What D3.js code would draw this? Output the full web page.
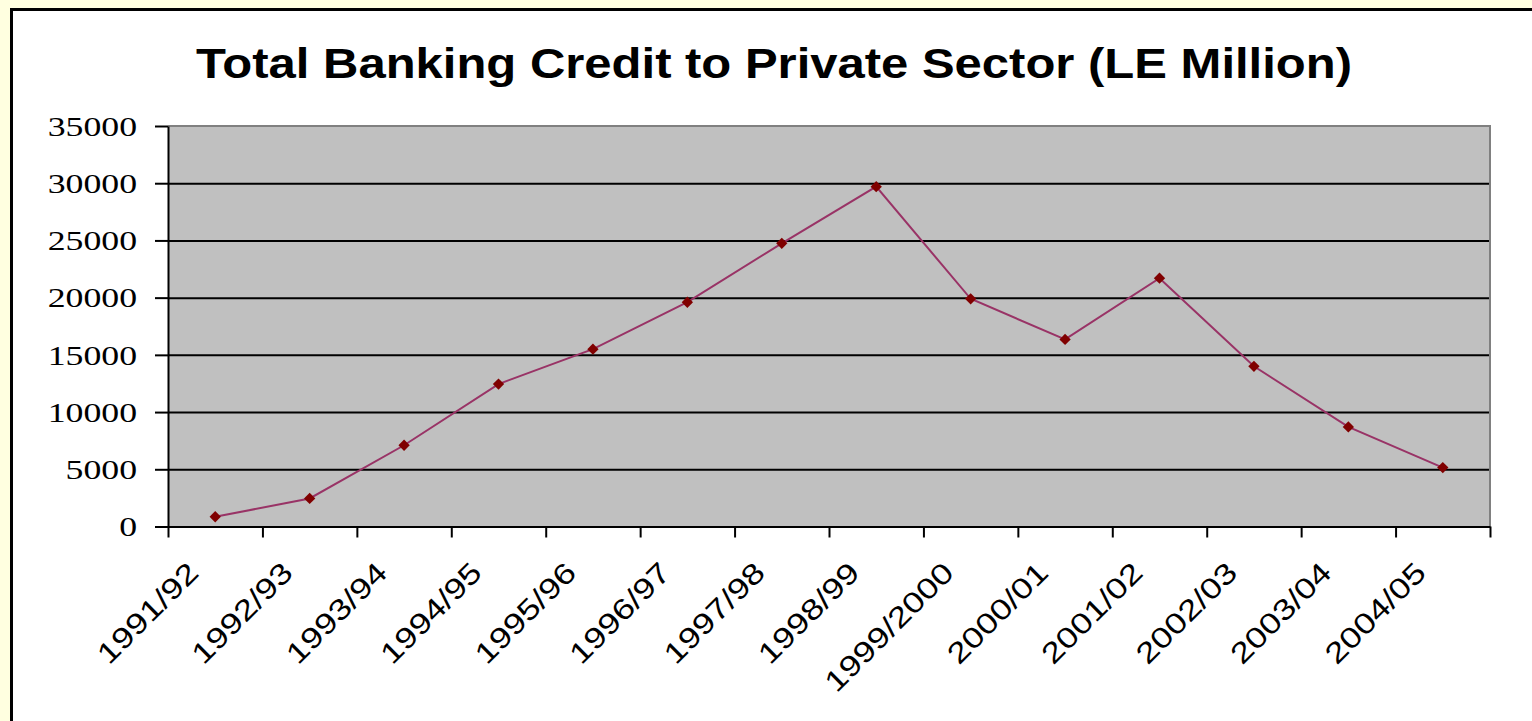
<!DOCTYPE html>
<html>
<head>
<meta charset="utf-8">
<script src="https://cdn.jsdelivr.net/npm/d3@7/dist/d3.min.js"></script>
<style>
  html, body { margin: 0; padding: 0; background: #FFFFE0; overflow: hidden; }
  svg { display: block; }
</style>
</head>
<body>
<svg id="chart" width="1532" height="721"></svg>
<script>
// Fiscal years on the category axis
const categories = ["1991/92", "1992/93", "1993/94", "1994/95", "1995/96", "1996/97", "1997/98",
                    "1998/99", "1999/2000", "2000/01", "2001/02", "2002/03", "2003/04", "2004/05"];
// Total banking credit to the private sector, LE million
const credit = [850, 2450, 7100, 12450, 15500, 19600, 24750, 29700, 19900, 16350, 21700, 14000, 8700, 5150];
// Value axis ticks
const yTickValues = [0, 5000, 10000, 15000, 20000, 25000, 30000, 35000];
const titleText = "Total Banking Credit to Private Sector (LE Million)";

const svg = d3.select("#chart");
const plot = { left: 168, right: 1490, top: 126, bottom: 526.5 };

// White chart frame with heavy black border
svg.append("rect")
  .attr("x", 11.5).attr("y", 9.5)
  .attr("width", 1600).attr("height", 800)
  .attr("fill", "#ffffff")
  .attr("stroke", "#000").attr("stroke-width", 3);

// Title
svg.append("text")
  .attr("x", 774).attr("y", 78)
  .attr("text-anchor", "middle")
  .attr("font-family", "Liberation Sans, Arial, sans-serif")
  .attr("font-weight", "bold")
  .attr("font-size", 43)
  .attr("textLength", 1156)
  .attr("lengthAdjust", "spacingAndGlyphs")
  .text(titleText);

const x = d3.scaleBand().domain(categories).range([plot.left, plot.right]).padding(0);
const xEdges = d3.scaleLinear().domain([0, categories.length]).range([plot.left, plot.right]);
const y = d3.scaleLinear().domain([0, 35000]).range([plot.bottom, plot.top]);

// Plot area background
svg.append("rect")
  .attr("x", plot.left).attr("y", plot.top)
  .attr("width", plot.right - plot.left).attr("height", plot.bottom - plot.top)
  .attr("fill", "#C0C0C0");

// Horizontal gridlines
const grid = svg.append("g")
  .attr("transform", `translate(${plot.left},0)`)
  .call(d3.axisLeft(y).tickValues(yTickValues.filter(v => v > 0 && v < 35000))
          .tickSize(-(plot.right - plot.left)).tickFormat(""));
grid.select(".domain").remove();
grid.selectAll("line").attr("stroke", "#000").attr("stroke-width", 2);

// Plot area border (top and right)
svg.append("path")
  .attr("d", `M${plot.left},${plot.top}H${plot.right}V${plot.bottom}`)
  .attr("fill", "none").attr("stroke", "#808080").attr("stroke-width", 2);

// Value axis
const sxY = 1.3;
const yAxis = svg.append("g")
  .attr("transform", `translate(${plot.left},0)`)
  .call(d3.axisLeft(y).tickValues(yTickValues).tickSize(13).tickSizeOuter(0).tickFormat(d3.format("d")));
yAxis.select(".domain").attr("stroke", "#000").attr("stroke-width", 2);
yAxis.selectAll(".tick line").attr("stroke", "#000").attr("stroke-width", 2);
yAxis.selectAll(".tick text")
  .attr("font-family", "Liberation Serif, Times New Roman, serif")
  .attr("font-size", 27.5)
  .attr("fill", "#000")
  .attr("x", -31 / sxY)
  .attr("dy", "0.34em")
  .attr("transform", `scale(${sxY},1)`);

// Category axis tick marks at band edges
const xTicks = svg.append("g")
  .attr("transform", `translate(0,${plot.bottom})`)
  .call(d3.axisBottom(xEdges).tickValues(d3.range(categories.length + 1)).tickSize(11).tickSizeOuter(0).tickFormat(""));
xTicks.select(".domain").attr("stroke", "#000").attr("stroke-width", 2);
xTicks.selectAll(".tick line").attr("stroke", "#000").attr("stroke-width", 2);

// Category labels, rotated
const sxX = 1.23;
const xLabels = svg.append("g")
  .attr("transform", `translate(0,${plot.bottom})`)
  .call(d3.axisBottom(x).tickSize(0));
xLabels.select(".domain").remove();
xLabels.selectAll(".tick text")
  .attr("font-family", "Liberation Sans, Arial, sans-serif")
  .attr("font-size", 29)
  .attr("fill", "#000")
  .attr("text-anchor", "end")
  .attr("x", 0).attr("y", 0).attr("dy", 0)
  .attr("transform", `translate(-15,48) rotate(-45) scale(${sxX},1)`);

// Series line
const line = d3.line()
  .x((d, i) => x(categories[i]) + x.bandwidth() / 2)
  .y(d => y(d));
svg.append("path")
  .datum(credit)
  .attr("d", line)
  .attr("fill", "none")
  .attr("stroke", "#993366")
  .attr("stroke-width", 2);

// Diamond markers
svg.append("g").selectAll("path")
  .data(credit)
  .join("path")
  .attr("d", d3.symbol(d3.symbolSquare, 64))
  .attr("transform", (d, i) => `translate(${x(categories[i]) + x.bandwidth() / 2},${y(d)}) rotate(45)`)
  .attr("fill", "#800000");
</script>
</body>
</html>
